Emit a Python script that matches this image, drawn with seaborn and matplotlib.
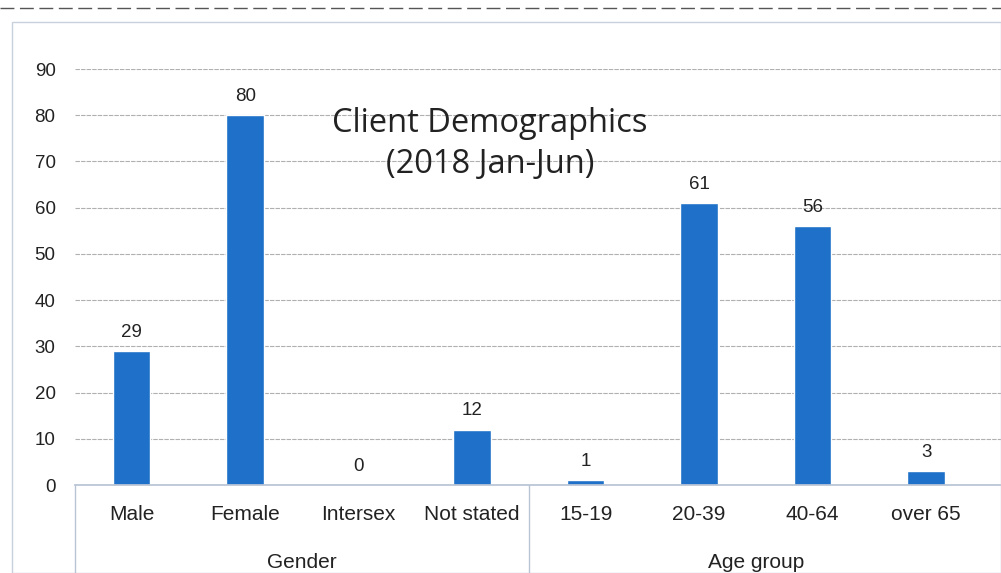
import matplotlib
matplotlib.use("Agg")
import matplotlib.pyplot as plt
import seaborn as sns
import pandas as pd
from matplotlib.patches import Rectangle
from matplotlib.lines import Line2D

categories = ["Male", "Female", "Intersex", "Not stated", "15-19", "20-39", "40-64", "over 65"]
values = [29, 80, 0, 12, 1, 61, 56, 3]
groups = ["Gender", "Age group"]
group_sizes = [4, 4]
yticks = [0, 10, 20, 30, 40, 50, 60, 70, 80, 90]
title = "Client Demographics\n(2018 Jan-Jun)"

sns.set_theme(style="white")
plt.rcParams['font.family'] = ['Liberation Sans Narrow', 'Liberation Sans', 'DejaVu Sans']

df = pd.DataFrame({"cat": categories, "val": values})

fig = plt.figure(figsize=(10.01, 5.73), dpi=100)
W, H = 1001, 573
ax = fig.add_axes([75 / W, (H - 485) / H, (1001 - 75) / W, (485 - 69) / H])

sns.barplot(data=df, x="cat", y="val", color="#1f70c8", width=0.33, ax=ax, saturation=1)

ax.set_ylim(0, 90)
ax.set_xlim(-0.5, 7.66)
ax.set_yticks(yticks)
ax.set_yticklabels([str(t) for t in yticks], fontsize=13.5, color="#222222")
ax.set_xticks([])
ax.set_xlabel("")
ax.set_ylabel("")
for s in ["top", "right", "left"]:
    ax.spines[s].set_visible(False)
ax.spines["bottom"].set_color("#b8c4d4")
ax.tick_params(axis="y", length=0, pad=14)
ax.yaxis.grid(True, color="#b0b0b0", linestyle=(0, (4, 1)), linewidth=0.8)
ax.set_axisbelow(True)

for i, v in enumerate(values):
    ax.text(i, v + 2.2, str(v), ha="center", va="bottom", fontsize=13.5, color="#222222")

# category labels
trans = ax.get_xaxis_transform()
for i, c in enumerate(categories):
    ax.text(i, -30 / 416, c, transform=trans, ha="center", va="center", fontsize=15, color="#222222")

# group labels and separators
start = 0
ax.add_line(Line2D([-0.5, -0.5], [0, -100 / 416], transform=trans, color="#b8c4d4", lw=1, clip_on=False))
for g, n in zip(groups, group_sizes):
    mid = start + (n - 1) / 2
    ax.text(mid, -77 / 416, g, transform=trans, ha="center", va="center", fontsize=15, color="#222222")
    end = start + n - 0.5
    if end < len(categories) - 0.5:
        ax.add_line(Line2D([end, end], [0, -100 / 416], transform=trans, color="#b8c4d4", lw=1, clip_on=False))
    start += n

fig.text(490 / W, 1 - 144 / H, title, ha="center", va="center", fontsize=23.5,
         family=['Open Sans', 'DejaVu Sans'], color="#222222", linespacing=1.3)

# outer chart frame
fig.add_artist(Rectangle((12 / W, 0), (1001 - 12) / W, (H - 22) / H, transform=fig.transFigure,
                         fill=False, edgecolor="#c8d0dc", lw=1))
fig.add_artist(Line2D([0, 1], [1 - 8 / H, 1 - 8 / H], transform=fig.transFigure,
                      color="#555555", lw=1, linestyle=(0, (10, 4))))

fig.savefig("out.png", dpi=100)
